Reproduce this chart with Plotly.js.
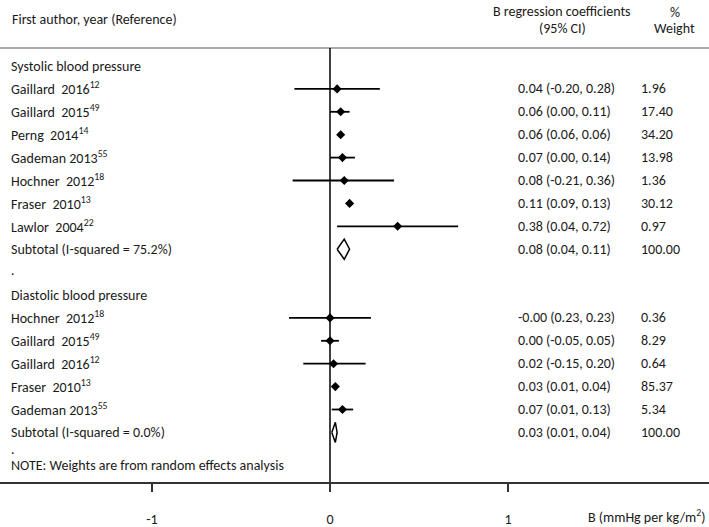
<!DOCTYPE html>
<html>
<head>
<meta charset="utf-8">
<script src="https://cdn.plot.ly/plotly-3.0.1.min.js"></script>
<style>html,body{margin:0;padding:0;background:#fff;}#chart{width:709px;height:527px;}</style>
</head>
<body>
<div id="chart"></div>
<script>
// ---- Data ----
const sbpStudies = ["Gaillard  2016", "Gaillard  2015", "Perng  2014", "Gademan 2013", "Hochner  2012", "Fraser  2010", "Lawlor  2004"];
const sbpRefs = ["12", "49", "14", "55", "18", "13", "22"];
const sbpEst = [0.04, 0.06, 0.06, 0.07, 0.08, 0.11, 0.38];
const sbpLo = [-0.20, 0.00, 0.06, 0.00, -0.21, 0.09, 0.04];
const sbpHi = [0.28, 0.11, 0.06, 0.14, 0.36, 0.13, 0.72];
const sbpCiText = ["0.04 (-0.20, 0.28)", "0.06 (0.00, 0.11)", "0.06 (0.06, 0.06)", "0.07 (0.00, 0.14)", "0.08 (-0.21, 0.36)", "0.11 (0.09, 0.13)", "0.38 (0.04, 0.72)"];
const sbpWeight = ["1.96", "17.40", "34.20", "13.98", "1.36", "30.12", "0.97"];
const sbpSubLabel = "Subtotal (I-squared = 75.2%)";
const sbpSubEst = 0.08, sbpSubLo = 0.04, sbpSubHi = 0.11;
const sbpSubCiText = "0.08 (0.04, 0.11)";
const sbpSubWeight = "100.00";

const dbpStudies = ["Hochner  2012", "Gaillard  2015", "Gaillard  2016", "Fraser  2010", "Gademan 2013"];
const dbpRefs = ["18", "49", "12", "13", "55"];
const dbpEst = [-0.00, 0.00, 0.02, 0.03, 0.07];
const dbpLo = [-0.23, -0.05, -0.15, 0.01, 0.01];
const dbpHi = [0.23, 0.05, 0.20, 0.04, 0.13];
const dbpCiText = ["-0.00 (0.23, 0.23)", "0.00 (-0.05, 0.05)", "0.02 (-0.15, 0.20)", "0.03 (0.01, 0.04)", "0.07 (0.01, 0.13)"];
const dbpWeight = ["0.36", "8.29", "0.64", "85.37", "5.34"];
const dbpSubLabel = "Subtotal (I-squared = 0.0%)";
const dbpSubEst = 0.03, dbpSubLo = 0.01, dbpSubHi = 0.04;
const dbpSubCiText = "0.03 (0.01, 0.04)";
const dbpSubWeight = "100.00";

const groupTitles = ["Systolic blood pressure", "Diastolic blood pressure"];
const noteText = "NOTE: Weights are from random effects analysis";
const headerLeft = "First author, year (Reference)";
const headerCi = ["B regression coefficients", "(95% CI)"];
const headerW = ["%", "Weight"];
const tickVals = [-1, 0, 1];
const tickText = ["-1", "0", "1"];
const xTitle = "B (mmHg per kg/m<sup>2</sup>)";

// ---- Row layout ----
const sbpHeadRow = 0;
const sbpRows = sbpStudies.map((_, i) => 1 + i);
const sbpSubRow = 1 + sbpStudies.length;
const gapRow1 = sbpSubRow + 1;
const dbpHeadRow = gapRow1 + 1;
const dbpRows = dbpStudies.map((_, i) => dbpHeadRow + 1 + i);
const dbpSubRow = dbpHeadRow + 1 + dbpStudies.length;
const gapRow2 = dbpSubRow + 1;

const FONT = "Carlito, Lato, 'Open Sans', sans-serif";
const TXT = "#1a1a1a";
const fs = 14;

const studyEst = sbpEst.concat(dbpEst);
const studyLo = sbpLo.concat(dbpLo);
const studyHi = sbpHi.concat(dbpHi);
const studyRows = sbpRows.concat(dbpRows);

const studies = {
  type: "scatter", mode: "markers",
  x: studyEst, y: studyRows,
  marker: {symbol: "diamond", size: 7, color: "#000"},
  error_x: {type: "data", symmetric: false,
    array: studyHi.map((h, i) => h - studyEst[i]),
    arrayminus: studyLo.map((l, i) => studyEst[i] - l),
    width: 0, thickness: 1.8, color: "#000"},
  hoverinfo: "skip", showlegend: false
};

const halfH = 0.44;
function diamond(lo, est, hi, row) {
  return {x: [lo, est, hi, est, lo, null], y: [row, row - halfH, row, row + halfH, row, null]};
}
const d1 = diamond(sbpSubLo, sbpSubEst, sbpSubHi, sbpSubRow);
const d2 = diamond(dbpSubLo, dbpSubEst, dbpSubHi, dbpSubRow);
const subs1 = {type: "scatter", mode: "lines", x: d1.x, y: d1.y, fill: "toself", fillcolor: "#fff",
  line: {color: "#000", width: 1.5}, hoverinfo: "skip", showlegend: false};
const subs2 = {type: "scatter", mode: "lines", x: d2.x, y: d2.y, fill: "toself", fillcolor: "#fff",
  line: {color: "#000", width: 1.5}, hoverinfo: "skip", showlegend: false};

// ---- Annotations ----
const W = 709, PH = 482;
const px = v => v / W;
const py = v => 1 - v / PH;
const ann = [];
function txt(x, xref, y, yref, text, anchor, extra) {
  ann.push(Object.assign({x: x, xref: xref, y: y, yref: yref, text: text, showarrow: false,
    xanchor: anchor || "left", yanchor: "middle", font: {family: FONT, size: fs, color: TXT}}, extra || {}));
}
const labX = px(9), ciX = px(516), wX = px(639);

txt(px(10), "paper", py(20), "paper", headerLeft);
txt(px(562), "paper", py(11), "paper", headerCi[0], "center");
txt(px(562), "paper", py(28), "paper", headerCi[1], "center");
txt(px(675), "paper", py(12), "paper", headerW[0], "center");
txt(px(674), "paper", py(28), "paper", headerW[1], "center");

txt(labX, "paper", sbpHeadRow, "y", groupTitles[0]);
sbpStudies.forEach((s, i) => {
  txt(labX, "paper", sbpRows[i], "y", s + "<sup>" + sbpRefs[i] + "</sup>");
  txt(ciX, "paper", sbpRows[i], "y", sbpCiText[i]);
  txt(wX, "paper", sbpRows[i], "y", sbpWeight[i]);
});
txt(labX, "paper", sbpSubRow, "y", sbpSubLabel);
txt(ciX, "paper", sbpSubRow, "y", sbpSubCiText);
txt(wX, "paper", sbpSubRow, "y", sbpSubWeight);
txt(labX, "paper", gapRow1, "y", ".", "left", {yshift: 2});

txt(labX, "paper", dbpHeadRow, "y", groupTitles[1]);
dbpStudies.forEach((s, i) => {
  txt(labX, "paper", dbpRows[i], "y", s + "<sup>" + dbpRefs[i] + "</sup>");
  txt(ciX, "paper", dbpRows[i], "y", dbpCiText[i]);
  txt(wX, "paper", dbpRows[i], "y", dbpWeight[i]);
});
txt(labX, "paper", dbpSubRow, "y", dbpSubLabel);
txt(ciX, "paper", dbpSubRow, "y", dbpSubCiText);
txt(wX, "paper", dbpSubRow, "y", dbpSubWeight);
txt(labX, "paper", gapRow2, "y", ".", "left", {yshift: 6});
txt(labX, "paper", gapRow2 + 0.45, "y", noteText);

txt(1, "paper", py(516), "paper", xTitle, "right", {xshift: -1});

// row -> pixel: y = 66 + 22.9*row
const rowTop = -66 / 22.9, rowBot = (PH - 66) / 22.9;

const layout = {
  width: 709, height: 527,
  margin: {l: 0, r: 0, t: 0, b: 45, pad: 0},
  paper_bgcolor: "#fff", plot_bgcolor: "#fff",
  showlegend: false,
  xaxis: {range: [-330 / 178, 379 / 178], showgrid: false, zeroline: false,
    showline: true, linecolor: "#333", linewidth: 2,
    ticks: "outside", ticklen: 8, tickwidth: 1.5, tickcolor: "#333",
    tickvals: tickVals, ticktext: tickText, ticklabelstandoff: 15,
    tickfont: {family: FONT, size: fs, color: TXT}, fixedrange: true},
  yaxis: {range: [rowBot, rowTop], visible: false, showgrid: false, zeroline: false, fixedrange: true},
  shapes: [
    {type: "line", xref: "paper", yref: "paper", x0: 0, x1: 1, y0: py(48), y1: py(48),
     line: {color: "#aaaaaa", width: 2}},
    {type: "line", xref: "x", yref: "paper", x0: 0, x1: 0, y0: 0, y1: py(48),
     line: {color: "#000", width: 1.5}}
  ],
  annotations: ann,
  font: {family: FONT, size: fs, color: TXT}
};

Plotly.newPlot("chart", [subs1, subs2, studies], layout, {displayModeBar: false, staticPlot: true});
</script>
</body>
</html>
